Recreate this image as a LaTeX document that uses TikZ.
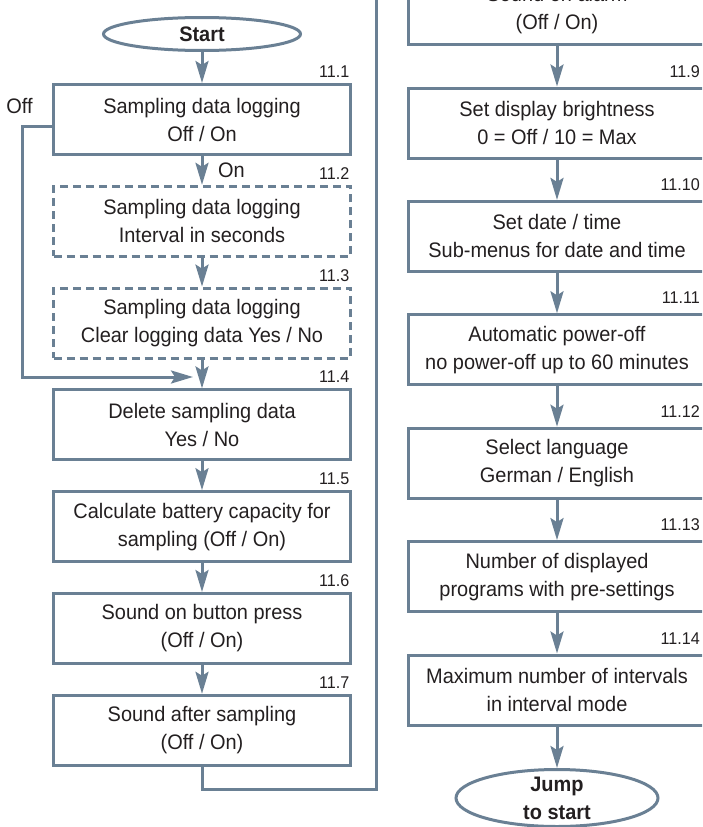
\documentclass[tikz,border=0pt]{standalone}
\usepackage{fontspec}
\setmainfont{Liberation Sans}[FakeStretch=0.95]
\usetikzlibrary{arrows.meta,shapes.geometric}
\definecolor{lc}{RGB}{106,128,148}
\definecolor{tc}{RGB}{35,31,32}
\begin{document}
\begin{tikzpicture}[x=1pt,y=-1pt,
  box/.style={draw=lc, line width=3pt, minimum width=297pt, minimum height=70pt, inner sep=0pt, align=center, text=tc, font=\fontsize{21}{28}\selectfont},
  dbox/.style={box, dash pattern=on 8pt off 5pt},
  ell/.style={ellipse, draw=lc, line width=3pt, inner sep=0pt, text=tc, font=\bfseries\fontsize{21}{28}\selectfont},
  conn/.style={draw=lc, line width=3pt, -{Stealth[length=22pt,width=13pt,inset=4pt]}},
  plain/.style={draw=lc, line width=3pt},
  num/.style={text=tc, font=\fontsize{17}{20}\selectfont, inner sep=0pt, anchor=base east},
  lbl/.style={text=tc, font=\fontsize{21}{28}\selectfont, inner sep=0pt},
  btxt/.style={text=tc, font=\bfseries\fontsize{21}{28}\selectfont, inner sep=0pt, align=center},
  ]
\useasboundingbox (0,0) rectangle (702,827);
\clip (0,0) rectangle (702,827);

% left column
\node[ell, minimum width=197pt, minimum height=33pt] (start) at (202,34) {Start};
\node[box] (b1) at (202,119.5) {Sampling data logging\\Off / On};
\node[dbox] (b2) at (202,221.3) {Sampling data logging\\Interval in seconds};
\node[dbox] (b3) at (202,323.1) {Sampling data logging\\Clear logging data Yes / No};
\node[box] (b4) at (202,424.9) {Delete sampling data\\Yes / No};
\node[box] (b5) at (202,526.7) {Calculate battery capacity for\\sampling (Off / On)};
\node[box] (b6) at (202,628.5) {Sound on button press\\(Off / On)};
\node[box] (b7) at (202,730.3) {Sound after sampling\\(Off / On)};

% right column
\node[box] (b8) at (557,9.6) {Sound on alarm\\(Off / On)};
\node[box] (b9) at (557,123) {Set display brightness\\0 = Off / 10 = Max};
\node[box] (b10) at (557,236.4) {Set date / time\\Sub-menus for date and time};
\node[box] (b11) at (557,349.8) {Automatic power-off\\no power-off up to 60 minutes};
\node[box] (b12) at (557,463.2) {Select language\\German / English};
\node[box] (b13) at (557,576.6) {Number of displayed\\programs with pre-settings};
\node[box] (b14) at (557,690) {Maximum number of intervals\\in interval mode};
\node[ell, minimum width=202pt, minimum height=57pt] (jump) at (557,798) {};
\node[btxt] (jumptxt) at (jump) {Jump\\to start};

% numbers
\node[num] (n1) at ([xshift=-2.5pt,yshift=5.5pt]b1.north east) {11.1};
\node[num] (n2) at ([xshift=-2.5pt,yshift=5.5pt]b2.north east) {11.2};
\node[num] (n3) at ([xshift=-2.5pt,yshift=5.5pt]b3.north east) {11.3};
\node[num] (n4) at ([xshift=-2.5pt,yshift=5.5pt]b4.north east) {11.4};
\node[num] (n5) at ([xshift=-2.5pt,yshift=5.5pt]b5.north east) {11.5};
\node[num] (n6) at ([xshift=-2.5pt,yshift=5.5pt]b6.north east) {11.6};
\node[num] (n7) at ([xshift=-2.5pt,yshift=5.5pt]b7.north east) {11.7};
\node[num] (n9) at ([xshift=-7pt,yshift=9.5pt]b9.north east) {11.9};
\node[num] (n10) at ([xshift=-7pt,yshift=9.5pt]b10.north east) {11.10};
\node[num] (n11) at ([xshift=-7pt,yshift=9.5pt]b11.north east) {11.11};
\node[num] (n12) at ([xshift=-7pt,yshift=9.5pt]b12.north east) {11.12};
\node[num] (n13) at ([xshift=-7pt,yshift=9.5pt]b13.north east) {11.13};
\node[num] (n14) at ([xshift=-7pt,yshift=9.5pt]b14.north east) {11.14};

% labels
\node[lbl] (offlbl) at (19.5,106) {Off};
\node[lbl, anchor=west] (onlbl) at (218,170) {On};

% connectors
\draw[conn] (start) -- (b1);
\draw[conn] (b1) -- (b2);
\draw[conn] (b2) -- (b3);
\draw[conn] (b3) -- (b4);
\draw[conn] (b4) -- (b5);
\draw[conn] (b5) -- (b6);
\draw[conn] (b6) -- (b7);
\draw[conn] (b8) -- (b9);
\draw[conn] (b9) -- (b10);
\draw[conn] (b10) -- (b11);
\draw[conn] (b11) -- (b12);
\draw[conn] (b12) -- (b13);
\draw[conn] (b13) -- (b14);
\draw[conn] (b14) -- (jump);

\coordinate (offL) at (22,126);
\coordinate (merge) at (193,377);
\draw[conn] (b1.west |- offL) -- (offL) |- (merge);

\coordinate (rtop) at (376,-40);
\draw[plain] (b7.south) -- ++(0,22.7) -| (rtop);
\end{tikzpicture}
\end{document}
